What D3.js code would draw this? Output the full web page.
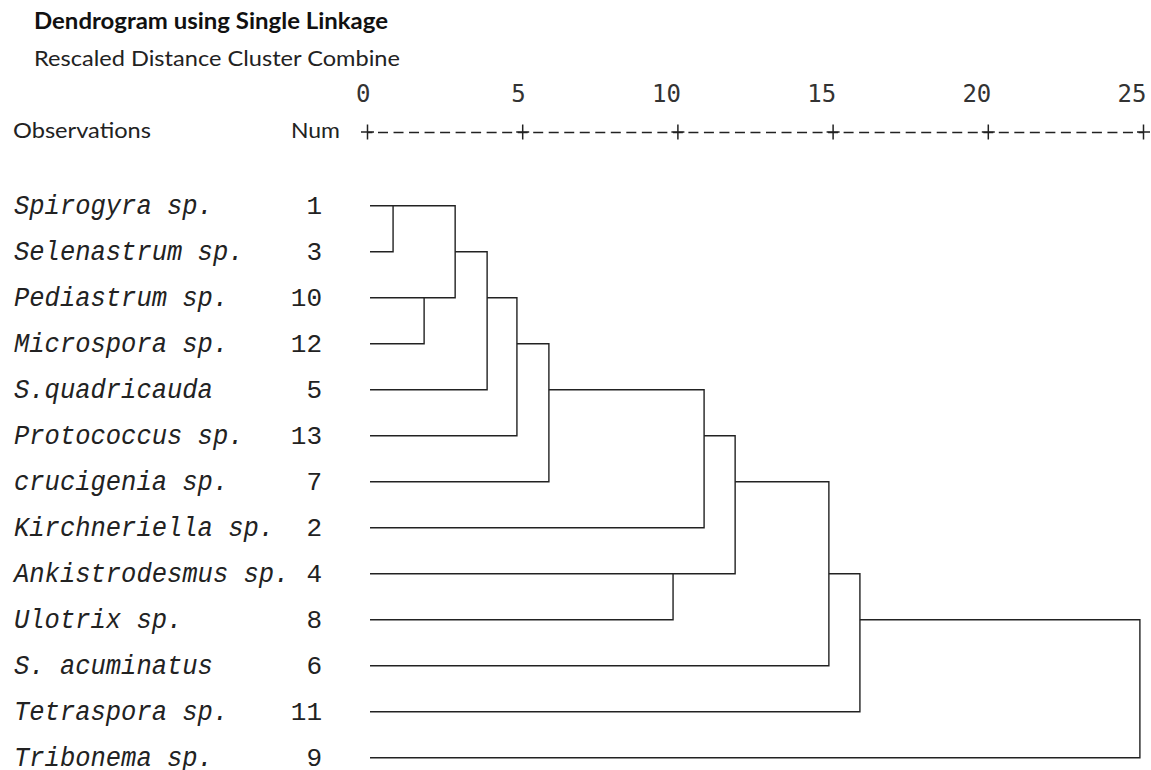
<!DOCTYPE html>
<html>
<head>
<meta charset="utf-8">
<script src="https://cdn.jsdelivr.net/npm/d3@7"></script>
<style>
  body { margin: 0; background: #fff; }
  svg { display: block; }
</style>
</head>
<body>
<script>
// leaves, top to bottom, as printed in the dendrogram
var leafNames = ["Spirogyra sp.", "Selenastrum sp.", "Pediastrum sp.", "Microspora sp.",
    "S.quadricauda", "Protococcus sp.", "crucigenia sp.", "Kirchneriella sp.",
    "Ankistrodesmus sp.", "Ulotrix sp.", "S. acuminatus", "Tetraspora sp.", "Tribonema sp."];
var leafNums = [1, 3, 10, 12, 5, 13, 7, 2, 4, 8, 6, 11, 9];

// agglomeration steps: [cluster of obs A, cluster of obs B, rescaled distance]
var merges = [
    [1, 3, 0.84],
    [10, 12, 1.84],
    [1, 10, 2.84],
    [1, 5, 3.87],
    [1, 13, 4.83],
    [1, 7, 5.86],
    [4, 8, 9.86],
    [1, 2, 10.86],
    [1, 4, 11.86],
    [1, 6, 14.88],
    [1, 11, 15.88],
    [1, 9, 24.9]
];

var tickVals = [0, 5, 10, 15, 20, 25];

var w = 1151, h = 770;

var svg = d3.select("body").append("svg")
    .attr("width", w)
    .attr("height", h);
svg.append("rect").attr("width", w).attr("height", h).attr("fill", "white");

var x = d3.scaleLinear().domain([0, 25]).range([367, 1143]);
var y = d3.scalePoint().domain(d3.range(leafNums.length)).range([205.7, 757.7]);

// headings
var sans = "Lato, 'Open Sans', sans-serif";
svg.append("text")
    .attr("x", 34).attr("y", 29)
    .attr("textLength", 354).attr("lengthAdjust", "spacingAndGlyphs")
    .style("font-family", sans).style("font-weight", "bold").style("font-size", "22px")
    .style("fill", "#111")
    .text("Dendrogram using Single Linkage");
svg.append("text")
    .attr("x", 34).attr("y", 66)
    .attr("textLength", 366).attr("lengthAdjust", "spacingAndGlyphs")
    .style("font-family", sans).style("font-size", "22px").style("fill", "#222")
    .text("Rescaled Distance Cluster Combine");
svg.append("text")
    .attr("x", 13).attr("y", 138)
    .attr("textLength", 138).attr("lengthAdjust", "spacingAndGlyphs")
    .style("font-family", sans).style("font-size", "22px").style("fill", "#222")
    .text("Observations");
svg.append("text")
    .attr("x", 291).attr("y", 138)
    .attr("textLength", 49).attr("lengthAdjust", "spacingAndGlyphs")
    .style("font-family", sans).style("font-size", "22px").style("fill", "#222")
    .text("Num");

// the "+---------+" axis
var cell = (x(25) - x(0)) / 50;
var axis = d3.axisTop(x).tickValues(tickVals).tickSize(0).tickPadding(0);
var ax = svg.append("g")
    .attr("transform", "translate(0,132)")
    .call(axis);
ax.select(".domain")
    .attr("stroke", "#222")
    .attr("stroke-width", 1.4)
    .attr("stroke-dasharray", "10 " + (cell - 10))
    .attr("stroke-dashoffset", cell - 10.5);
ax.selectAll(".tick").each(function() {
    var t = d3.select(this);
    t.append("line").attr("x1", -6.5).attr("x2", 6.5).attr("y1", 0).attr("y2", 0)
        .attr("stroke", "#222").attr("stroke-width", 1.5);
    t.append("line").attr("x1", 0).attr("x2", 0).attr("y1", -7.5).attr("y2", 7.5)
        .attr("stroke", "#222").attr("stroke-width", 1.5);
});
ax.selectAll(".tick text")
    .attr("x", 3).attr("y", -30).attr("dy", null)
    .attr("text-anchor", "end")
    .style("font-family", "'DejaVu Sans Mono', monospace")
    .style("font-size", "24px")
    .style("fill", "#333");

// leaf labels and numbers
var mono = "'Liberation Mono', 'Courier New', monospace";
svg.append("g").selectAll("text")
    .data(leafNames)
    .join("text")
    .attr("x", 14)
    .attr("y", function(d, i) { return y(i) + 8; })
    .attr("textLength", function(d) { return d.length * 15.3; })
    .attr("lengthAdjust", "spacingAndGlyphs")
    .style("font-family", mono).style("font-style", "italic").style("font-size", "27px")
    .style("fill", "#222")
    .text(function(d) { return d; });
svg.append("g").selectAll("text")
    .data(leafNums)
    .join("text")
    .attr("x", 322)
    .attr("y", function(d, i) { return y(i) + 8; })
    .attr("text-anchor", "end")
    .style("font-family", mono).style("font-size", "26px")
    .style("fill", "#222")
    .text(function(d) { return d; });

// dendrogram: each cluster continues at floor of its children's mean row
var cur = {};
leafNums.forEach(function(n, i) { cur[n] = { row: i, dist: null, members: [n] }; });
var links = [];
merges.forEach(function(m) {
    var a = cur[m[0]], b = cur[m[1]];
    links.push({ a: a, b: b, dist: m[2] });
    var node = { row: Math.floor((a.row + b.row) / 2), dist: m[2], members: a.members.concat(b.members) };
    node.members.forEach(function(n) { cur[n] = node; });
});

function startX(c) { return c.dist === null ? x(0) + 3 : x(c.dist); }

svg.append("g").selectAll("path")
    .data(links)
    .join("path")
    .attr("d", function(l) {
        var p = d3.path();
        p.moveTo(startX(l.a), y(l.a.row));
        p.lineTo(x(l.dist), y(l.a.row));
        p.lineTo(x(l.dist), y(l.b.row));
        p.lineTo(startX(l.b), y(l.b.row));
        return p.toString();
    })
    .style("fill", "none")
    .style("stroke", "#222")
    .style("stroke-width", 1.4);
</script>
</body>
</html>
